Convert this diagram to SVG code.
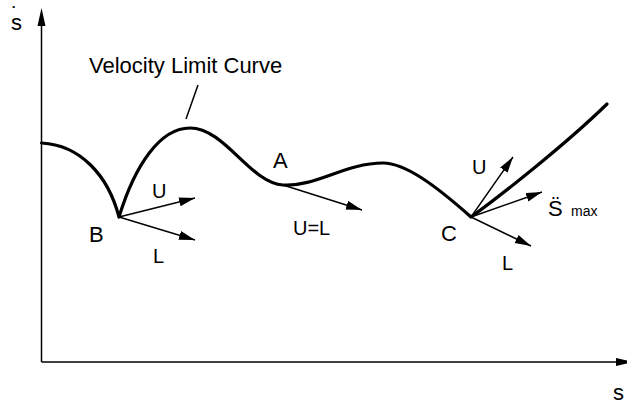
<svg xmlns="http://www.w3.org/2000/svg" width="627" height="404" viewBox="0 0 627 404">
<style>
text{font-family:"Liberation Sans",Arial,"DejaVu Sans",sans-serif;fill:#000}
.big{font-size:22px}
.lbl{font-size:20px}
.ax{stroke:#000;stroke-width:1.5;fill:none}
.vec{stroke:#000;stroke-width:1.4;fill:none;marker-end:url(#ah)}
.curve{stroke:#000;stroke-width:3.2;fill:none;stroke-linejoin:round;stroke-linecap:round}
</style>
<defs>
<marker id="ah" markerUnits="userSpaceOnUse" markerWidth="18" markerHeight="10" refX="16" refY="4.5" orient="auto">
<path d="M0,0 L16,4.5 L0,9 Z" fill="#000"/>
</marker>
</defs>
<rect width="627" height="404" fill="#fff"/>
<g id="axes">
<path class="ax" d="M41.5,362 V22"/>
<path d="M37.5,26 L41.5,8 L45.5,26 Z" fill="#000"/>
<path class="ax" d="M41.5,362 H620"/>
<path d="M616,358 L634,362 L616,366 Z" fill="#000"/>
<text x="11" y="30" class="big">s<tspan x="11" dy="-8">˙</tspan></text>
<text x="613" y="400" class="big">s</text>
</g>
<g id="curve">
<path class="curve" d="M41.5,143 C80,145 108,175 119,217 C135,165 160,128 190,128 C225,128 250,183 283,185 C316,187 345,163 383,163 C405,163 435,185 471,217 C500,196 565,145 607,104"/>
</g>
<g id="label-vlc">
<text x="89" y="73" class="big">Velocity Limit Curve</text>
<path class="ax" d="M198,85 L186,119"/>
</g>
<g id="connectors">
<path class="vec" d="M119,217 L195,198"/>
<path class="vec" d="M119,217 L195,240"/>
<path class="vec" d="M283,185 L362,210"/>
<path class="vec" d="M471,217 L513,157"/>
<path class="vec" d="M471,217 L542,192"/>
<path class="vec" d="M471,217 L531,246"/>
</g>
<g id="node-B">
<text x="89" y="242" class="big">B</text>
<text x="152" y="198" class="lbl">U</text>
<text x="153" y="263" class="lbl">L</text>
</g>
<g id="node-A">
<text x="273" y="168" class="big">A</text>
<text x="293" y="235" class="lbl">U=L</text>
</g>
<g id="node-C">
<text x="441" y="241" class="big">C</text>
<text x="472" y="174" class="lbl">U</text>
<text x="502" y="270" class="lbl">L</text>
<text x="548" y="216"><tspan class="big">S̈</tspan><tspan x="571" style="font-size:14px">max</tspan></text>
</g>
</svg>
